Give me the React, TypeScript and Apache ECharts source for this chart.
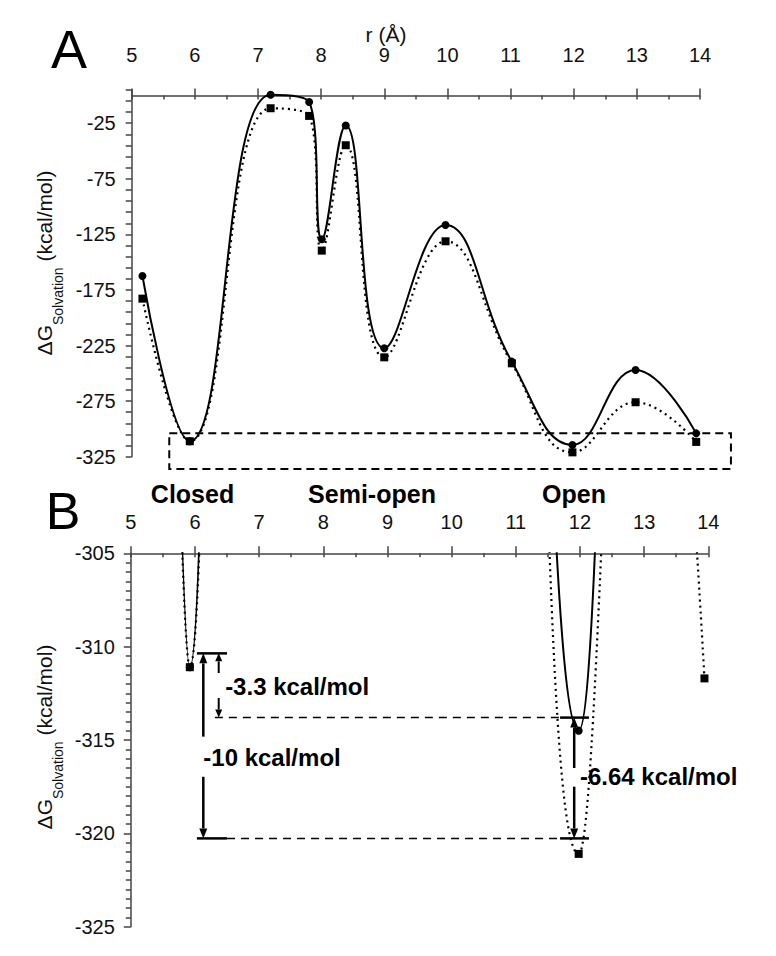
import React, { useEffect, useRef } from 'react';
import * as echarts from 'echarts';

// r (Å) positions of the computed points
const rValues = [5.17, 5.92, 7.2, 7.81, 8.01, 8.39, 9.0, 9.97, 11.02, 11.98, 12.98, 13.94];
// solid curve (circles)
const solidValues = [-162.4, -311.1, 0.7, -5.9, -129.4, -27.1, -227.5, -116.5, -239.5, -314.5, -247.0, -304.0];
// dotted curve (squares)
const dottedValues = [-182.8, -311.1, -11.5, -18.4, -139.6, -44.8, -235.6, -131.2, -241.0, -321.1, -276.0, -311.7];

const stateLabels = ['Closed', 'Semi-open', 'Open'];
const annotationTexts = ['-3.3 kcal/mol', '-10 kcal/mol', '-6.64 kcal/mol'];
// reference energy levels used by the annotation arrows in panel B
const refLevels = [-310.36, -313.8, -320.27];

const FONT = '"Liberation Sans", Arial, Helvetica, sans-serif';
const AX = { color: '#444', width: 1.5 };

export default function App() {
  const ref = useRef<HTMLDivElement>(null);

  useEffect(() => {
    if (!ref.current) return;
    const chart = echarts.init(ref.current, undefined, { renderer: 'svg' });
    const solid = rValues.map((r, i) => [r, solidValues[i]]);
    const dotted = rValues.map((r, i) => [r, dottedValues[i]]);

    const mainX = (grid: number, margin: number) => ({
      gridIndex: grid,
      type: 'value',
      position: 'top',
      min: 5,
      max: 14,
      interval: 1,
      axisLine: { show: true, onZero: true, onZeroAxisIndex: grid, lineStyle: AX },
      axisTick: { show: true, inside: false, length: 7, lineStyle: AX },
      axisLabel: { margin, fontSize: 20, color: '#111', fontFamily: FONT },
      splitLine: { show: false },
    });
    const helperX = (grid: number) => ({
      gridIndex: grid,
      type: 'value',
      position: 'top',
      min: 5,
      max: 14,
      interval: 0.5,
      axisLine: { show: false, onZero: true, onZeroAxisIndex: grid },
      axisTick: { show: true, inside: true, length: 4, lineStyle: AX },
      axisLabel: { show: false },
      splitLine: { show: false },
    });

    const lineSeries = (data: number[][], xi: number, yi: number, dottedStyle: boolean, clip: boolean) => ({
      type: 'line',
      xAxisIndex: xi,
      yAxisIndex: yi,
      data,
      smooth: 0.45,
      clip,
      symbol: dottedStyle ? 'rect' : 'circle',
      symbolSize: 8,
      showSymbol: true,
      itemStyle: { color: '#000' },
      lineStyle: dottedStyle
        ? { color: '#000', width: 2.2, type: [2, 4] }
        : { color: '#000', width: 2 },
      z: dottedStyle ? 3 : 2,
    });

    const option: any = {
      animation: false,
      backgroundColor: '#fff',
      grid: [
        { left: 131.7, top: 89.9, width: 568.3, height: 366.8 },
        { left: 130.8, top: 553.3, width: 577.5, height: 373.4 },
      ],
      xAxis: [mainX(0, 25), helperX(0), mainX(1, 21), helperX(1)],
      yAxis: [
        {
          gridIndex: 0,
          type: 'value',
          min: -325,
          max: 5,
          interval: 10,
          axisLine: { show: true, onZero: false, lineStyle: AX },
          axisTick: { show: true, length: 6, lineStyle: AX },
          axisLabel: {
            margin: 16,
            fontSize: 20,
            color: '#111',
            fontFamily: FONT,
            formatter: (v: number) => {
              const n = Math.round(v);
              return (n + 325) % 50 === 0 ? String(n) : '';
            },
          },
          splitLine: { show: false },
        },
        {
          gridIndex: 1,
          type: 'value',
          min: -325,
          max: -305,
          interval: 5,
          axisLine: { show: true, onZero: false, lineStyle: AX },
          axisTick: { show: true, length: 7, lineStyle: AX },
          minorTick: { show: true, splitNumber: 10, length: 5, lineStyle: AX },
          axisLabel: { margin: 16, fontSize: 20, color: '#111', fontFamily: FONT },
          splitLine: { show: false },
          minorSplitLine: { show: false },
        },
      ],
      series: [
        lineSeries(solid, 0, 0, false, false),
        lineSeries(dotted, 0, 0, true, false),
        lineSeries(solid, 2, 1, false, true),
        lineSeries(dotted, 2, 1, true, true),
      ],
    };
    chart.setOption(option);

    const pA = (x: number, y: number) => chart.convertToPixel({ seriesIndex: 0 }, [x, y]) as number[];
    const pB = (x: number, y: number) => chart.convertToPixel({ seriesIndex: 2 }, [x, y]) as number[];

    const seg = (a: number[], b: number[], w: number, dash?: number[]) => ({
      type: 'line',
      z: 100,
      shape: { x1: a[0], y1: a[1], x2: b[0], y2: b[1] },
      style: { stroke: '#000', lineWidth: w, lineDash: dash },
    });
    const head = (tip: number[], up: boolean, w: number, len: number) => {
      const by = up ? tip[1] + len : tip[1] - len;
      return {
        type: 'polygon',
        z: 100,
        shape: { points: [[tip[0], tip[1]], [tip[0] - w, by], [tip[0] + w, by]] },
        style: { fill: '#000' },
      };
    };
    const arrow = (r: number, from: number, to: number, up: boolean, lw: number, hw: number, hl: number) => {
      // from = tip level, to = tail level
      const tip = pB(r, from);
      const tail = pB(r, to);
      const base = [tip[0], up ? tip[1] + hl : tip[1] - hl];
      return [seg(base, tail, lw), head(tip, up, hw, hl)];
    };

    const [L0, L1, L2] = refLevels;
    const rectTL = pA(5.595, -303.9);
    const rectBR = pA(14.49, -336.1);

    const graphics: any[] = [
      // panel letters
      { type: 'text', x: 69, y: 49, style: { text: 'A', font: `54px ${FONT}`, fill: '#000', align: 'center', verticalAlign: 'middle' } },
      { type: 'text', x: 63, y: 511, style: { text: 'B', font: `52px ${FONT}`, fill: '#000', align: 'center', verticalAlign: 'middle' } },
      // x axis title
      { type: 'text', x: 386, y: 34, style: { text: 'r (Å)', font: `21px ${FONT}`, fill: '#111', align: 'center', verticalAlign: 'middle' } },
      // y axis titles
      ...[263, 737].map((cy) => ({
        type: 'text',
        x: 44,
        y: cy,
        rotation: Math.PI / 2,
        style: {
          text: '{m|ΔG}{s|Solvation}{m| (kcal/mol)}',
          align: 'center',
          verticalAlign: 'middle',
          rich: {
            m: { fontSize: 21, fontFamily: FONT, fill: '#111', lineHeight: 24 },
            s: { fontSize: 14, fontFamily: FONT, fill: '#111', padding: [28, 0, 0, 0] },
          },
        },
      })),
      // state labels
      ...stateLabels.map((t, i) => ({
        type: 'text',
        x: [192.5, 372, 574][i],
        y: 494,
        style: { text: t, font: `bold 25px ${FONT}`, fill: '#000', align: 'center', verticalAlign: 'middle' },
      })),
      // dashed zoom box in panel A
      {
        type: 'rect',
        z: 50,
        shape: { x: rectTL[0], y: rectTL[1], width: rectBR[0] - rectTL[0], height: rectBR[1] - rectTL[1] },
        style: { fill: 'none', stroke: '#000', lineWidth: 2, lineDash: [8, 5] },
      },
      // reference levels
      seg(pB(6.03, L0), pB(6.5, L0), 2.5),
      seg(pB(6.03, L2), pB(6.5, L2), 2.5),
      seg(pB(6.31, L1), pB(11.69, L1), 1.5, [8, 6]),
      seg(pB(6.5, L2), pB(11.69, L2), 1.5, [8, 6]),
      seg(pB(11.69, L1), pB(12.14, L1), 2.5),
      seg(pB(11.69, L2), pB(12.14, L2), 2.5),
      // arrows
      ...arrow(6.13, L0, -314.82, true, 2.5, 4, 10),
      ...arrow(6.13, L2, -316.97, false, 2.5, 4, 10),
      ...arrow(6.37, L0, -311.41, true, 2, 3.5, 8),
      ...arrow(6.37, L1, -312.75, false, 2, 3.5, 8),
      ...arrow(11.91, L1, -316.5, true, 2.5, 4, 10),
      ...arrow(11.91, L2, -317.5, false, 2.5, 4, 10),
      // annotation texts
      ...annotationTexts.map((t, i) => {
        const p = pB([6.47, 6.13, 12.0][i], [-312.14, -315.95, -316.97][i]);
        return {
          type: 'text',
          z: 101,
          x: p[0],
          y: p[1],
          style: { text: t, font: `bold 24px ${FONT}`, fill: '#000', align: 'left', verticalAlign: 'middle' },
        };
      }),
    ];

    chart.setOption({ graphic: graphics });

    return () => chart.dispose();
  }, []);

  return (
    <div
      ref={ref}
      style={{ position: 'absolute', left: 0, top: 0, width: 776, height: 956, background: '#fff' }}
    />
  );
}
